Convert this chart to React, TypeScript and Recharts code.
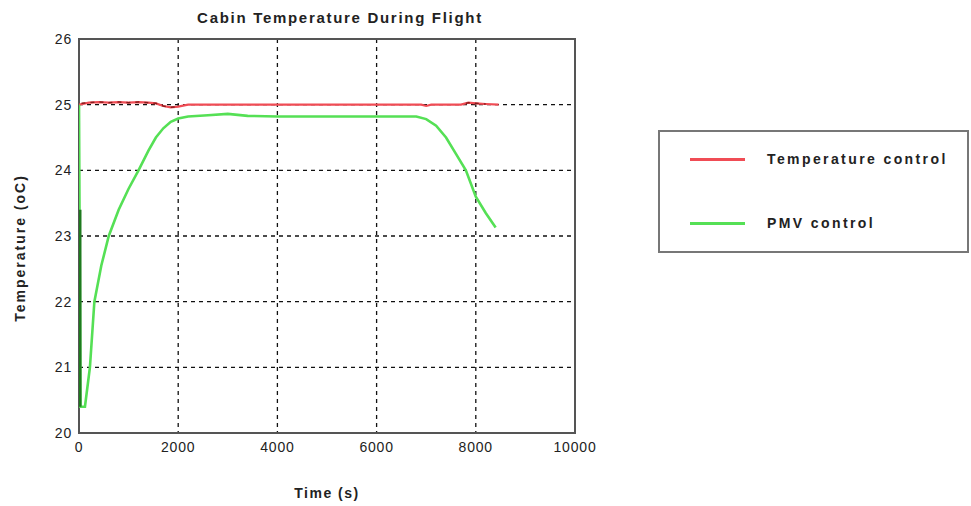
import React from "react";
import {
  LineChart,
  Line,
  XAxis,
  YAxis,
  CartesianGrid,
  ReferenceArea,
} from "recharts";

// ---- data ----
const xTicks = [0, 2000, 4000, 6000, 8000, 10000];
const yTicks = [20, 21, 22, 23, 24, 25, 26];

const tempTime = [0, 200, 400, 600, 800, 1000, 1200, 1400, 1550, 1700, 1850, 2000, 2200, 3000, 4000, 5000, 6000, 6900, 7000, 7100, 7700, 7850, 8000, 8200, 8460];
const tempVal = [25.0, 25.03, 25.04, 25.03, 25.04, 25.03, 25.04, 25.03, 25.02, 24.98, 24.96, 24.97, 25.0, 25.0, 25.0, 25.0, 25.0, 25.0, 24.98, 25.0, 25.0, 25.03, 25.02, 25.01, 25.0];

const tempDarkTime = [50, 200, 400, 600, 800, 1000, 1200, 1400, 1550, 1700, 1850, 2000, 6950, 7000, 7050, 7800, 7850, 8000, 8200];
const tempDarkVal = [25.02, 25.03, 25.04, 25.03, 25.04, 25.03, 25.04, 25.03, 25.02, 24.98, 24.96, 24.97, null, 24.98, null, 25.02, 25.03, 25.02, 25.01];

const pmvTime = [0, 30, 120, 170, 220, 310, 450, 600, 800, 1000, 1200, 1400, 1550, 1700, 1850, 2000, 2200, 2600, 3000, 3400, 4000, 5000, 6000, 6800, 7000, 7200, 7400, 7600, 7800, 8000, 8200, 8400];
const pmvVal = [25.0, 20.4, 20.4, 20.7, 21.0, 22.0, 22.55, 23.0, 23.4, 23.72, 24.0, 24.3, 24.5, 24.64, 24.74, 24.79, 24.82, 24.84, 24.86, 24.83, 24.82, 24.82, 24.82, 24.82, 24.78, 24.68, 24.5, 24.25, 24.0, 23.6, 23.35, 23.13];

const pmvDarkTime = [20, 20];
const pmvDarkVal = [23.4, 20.4];

const seriesNames = ["Temperature control", "PMV control"];
const title = "Cabin Temperature During Flight";
const xLabel = "Time (s)";
const yLabel = "Temperature (oC)";

const zip = (t: number[], v: (number | null)[]) => t.map((x, i) => ({ t: x, v: v[i] }));
const tempData = zip(tempTime, tempVal);
const tempDarkData = zip(tempDarkTime, tempDarkVal);
const pmvData = zip(pmvTime, pmvVal);
const pmvDarkData = zip(pmvDarkTime, pmvDarkVal);

const RED = "#f04c55";
const GREEN = "#55e055";
const FONT = "'Liberation Sans', Arial, sans-serif";

const LegendBox = () => (
  <div
    style={{
      position: "absolute",
      left: 658,
      top: 130,
      width: 307,
      height: 119,
      border: "2px solid #777",
      background: "#fff",
      fontFamily: FONT,
    }}
  >
    {[RED, GREEN].map((c, i) => (
      <React.Fragment key={i}>
        <div
          style={{
            position: "absolute",
            left: 30,
            top: 26 + i * 64,
            width: 55,
            height: 3,
            background: c,
          }}
        />
        <div
          style={{
            position: "absolute",
            left: 107,
            top: 18 + i * 64,
            fontSize: 14,
            fontWeight: "bold",
            letterSpacing: 2.4,
            color: "#222",
            lineHeight: "18px",
            whiteSpace: "nowrap",
          }}
        >
          {seriesNames[i]}
        </div>
      </React.Fragment>
    ))}
  </div>
);

export default function App() {
  return (
    <div style={{ position: "absolute", left: 0, top: 0, width: 971, height: 506, background: "#fff", fontFamily: FONT }}>
      <LineChart
        width={971}
        height={506}
        margin={{ top: 39, right: 396, bottom: 33, left: 29 }}
        style={{ position: "absolute", left: 0, top: 0 }}
      >
        <CartesianGrid stroke="#111" strokeWidth={1.3} strokeDasharray="4 4" />
        <XAxis
          type="number"
          dataKey="t"
          domain={[0, 10000]}
          ticks={xTicks}
          height={40}
          axisLine={false}
          tickLine={false}
          tickSize={6}
          tickMargin={3}
          tick={{ fill: "#222", fontSize: 14, fontFamily: FONT, letterSpacing: 0.8 }}
          allowDataOverflow
        />
        <YAxis
          type="number"
          domain={[20, 26]}
          ticks={yTicks}
          width={50}
          axisLine={false}
          tickLine={false}
          tickSize={5}
          tickMargin={2}
          tick={{ fill: "#222", fontSize: 14, fontFamily: FONT, letterSpacing: 0.8 }}
          allowDataOverflow
        />
        <Line data={tempData} dataKey="v" stroke={RED} strokeWidth={2.2} dot={false} isAnimationActive={false} name={seriesNames[0]} />
        <Line data={tempDarkData} dataKey="v" stroke="#8a1c1c" strokeWidth={1.5} strokeDasharray="4 5" dot={false} isAnimationActive={false} legendType="none" connectNulls={false} />
        <Line data={pmvData} dataKey="v" stroke={GREEN} strokeWidth={2.6} dot={false} isAnimationActive={false} name={seriesNames[1]} />
        <Line data={pmvDarkData} dataKey="v" stroke="#1f7a1f" strokeWidth={3} dot={false} isAnimationActive={false} legendType="none" />
        <ReferenceArea x1={0} x2={10000} y1={20} y2={26} fill="none" stroke="#555" strokeWidth={2} ifOverflow="visible" />
      </LineChart>
      <div
        style={{
          position: "absolute",
          left: 340,
          top: 9,
          transform: "translateX(-50%)",
          fontSize: 15,
          fontWeight: "bold",
          letterSpacing: 1.7,
          color: "#222",
          whiteSpace: "nowrap",
          lineHeight: "18px",
        }}
      >
        {title}
      </div>
      <div
        style={{
          position: "absolute",
          left: 327,
          top: 484,
          transform: "translateX(-50%)",
          fontSize: 14,
          fontWeight: "bold",
          letterSpacing: 1.5,
          color: "#222",
          whiteSpace: "nowrap",
          lineHeight: "18px",
        }}
      >
        {xLabel}
      </div>
      <div
        style={{
          position: "absolute",
          left: 20,
          top: 248,
          transform: "translate(-50%, -50%) rotate(-90deg)",
          fontSize: 14,
          fontWeight: "bold",
          letterSpacing: 2,
          color: "#222",
          whiteSpace: "nowrap",
          lineHeight: "16px",
        }}
      >
        {yLabel}
      </div>
      <LegendBox />
    </div>
  );
}
